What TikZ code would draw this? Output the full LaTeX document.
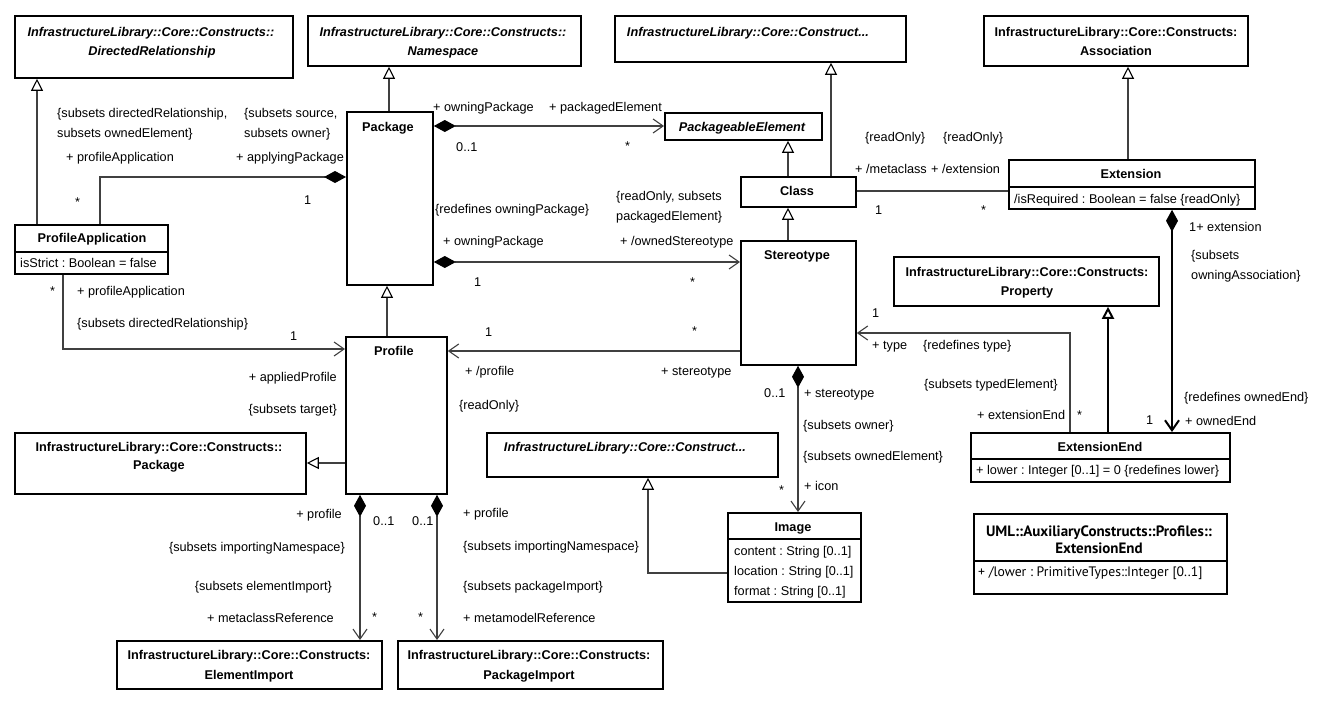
\documentclass[tikz,border=0pt]{standalone}
\usepackage{fontspec}
\setmainfont{Liberation Sans}
\newfontfamily\umlfont{PT Sans}
\usetikzlibrary{arrows.meta}
\newcommand{\lblfont}{\fontsize{12.7}{15}\selectfont}
\frenchspacing

\begin{document}
\begin{tikzpicture}[
    x=1pt, y=-1pt,
    cls/.style  = {draw, line width=1.8pt, anchor=north west, inner sep=0pt},
    ttl/.style  = {font=\lblfont\bfseries, inner sep=0pt, text height=9pt, text depth=0pt},
    ttli/.style = {ttl, font=\lblfont\bfseries\itshape},
    lbl/.style  = {font=\lblfont, inner sep=0pt, text height=9pt, text depth=0pt, anchor=west},
    lblr/.style = {lbl, anchor=east},
    sep/.style  = {line width=1.5pt},
    conn/.style = {draw=black!75, line width=1.1pt},
    gen/.style  = {conn, -{Triangle[open, length=12pt, width=12pt, color=black]}},
    nav/.style  = {conn, -{Straight Barb[length=10pt, width=14pt]}},
    comp/.style = {conn, {Diamond[length=22pt, width=12pt, color=black, fill=black]}-{Straight Barb[length=10pt, width=14pt]}},
    compn/.style= {conn, {Diamond[length=22pt, width=12pt, color=black, fill=black]}-},
]
  \fill[white] (0,0) rectangle (1324,701);
  \useasboundingbox (0,0) rectangle (1324,701);

  % classes
  \node[cls, minimum width=278pt, minimum height=62pt] (dirrel) at (14,15) {};
  \node[cls, minimum width=273pt, minimum height=50pt] (namespace) at (307,15) {};
  \node[cls, minimum width=291pt, minimum height=46pt] (construct1) at (614,15) {};
  \node[cls, minimum width=264pt, minimum height=50pt] (assoc) at (983,15) {};
  \node[cls, minimum width=86pt, minimum height=173pt] (package) at (346,111) {};
  \node[cls, minimum width=157pt, minimum height=27pt] (pe) at (664,112) {};
  \node[cls, minimum width=115pt, minimum height=30pt] (class) at (740,176) {};
  \node[cls, minimum width=246pt, minimum height=49pt] (ext) at (1008,159) {};
  \node[cls, minimum width=153pt, minimum height=49pt] (profapp) at (14,224) {};
  \node[cls, minimum width=115pt, minimum height=124pt] (stereo) at (740,240) {};
  \node[cls, minimum width=265pt, minimum height=49pt] (property) at (893,256) {};
  \node[cls, minimum width=101pt, minimum height=157pt] (profile) at (345,336) {};
  \node[cls, minimum width=291pt, minimum height=61pt] (pkginfra) at (14,432) {};
  \node[cls, minimum width=291pt, minimum height=44pt] (construct2) at (486,432) {};
  \node[cls, minimum width=133pt, minimum height=89pt] (image) at (727,512) {};
  \node[cls, minimum width=259pt, minimum height=49pt] (extend) at (970,432) {};
  \node[cls, minimum width=253pt, minimum height=80pt] (umlend) at (973,513) {};
  \node[cls, minimum width=265pt, minimum height=48pt] (elimport) at (116,640) {};
  \node[cls, minimum width=265pt, minimum height=48pt] (pkgimport) at (397,640) {};

  % compartments
  \draw[sep] (ext.west |- 0,187) -- (ext.east |- 0,187);
  \draw[sep] (profapp.west |- 0,252) -- (profapp.east |- 0,252);
  \draw[sep] (image.west |- 0,539) -- (image.east |- 0,539);
  \draw[sep] (extend.west |- 0,459) -- (extend.east |- 0,459);
  \draw[sep] (umlend.west |- 0,561) -- (umlend.east |- 0,561);

  % class names
  \node[ttli] (dirrel-a) at (151,32) {InfrastructureLibrary::Core::Constructs::};
  \node[ttli] (dirrel-b) at (152,51) {DirectedRelationship};
  \node[ttli] (namespace-a) at (443,32) {InfrastructureLibrary::Core::Constructs::};
  \node[ttli] (namespace-b) at (443,51) {Namespace};
  \node[ttli] (construct1-a) at (748,32) {InfrastructureLibrary::Core::Construct...};
  \node[ttl] (assoc-a) at (1116,32) {InfrastructureLibrary::Core::Constructs:};
  \node[ttl] (assoc-b) at (1116,51) {Association};
  \node[ttl] (package-a) at (388,127) {Package};
  \node[ttli] (pe-a) at (742,127) {PackageableElement};
  \node[ttl] (class-a) at (797,191) {Class};
  \node[ttl] (ext-a) at (1131,174) {Extension};
  \node[lbl] (ext-b) at (1014,199) {/isRequired : Boolean = false \{readOnly\}};
  \node[ttl] (profapp-a) at (92,238) {ProfileApplication};
  \node[lbl] (profapp-b) at (20,263) {isStrict : Boolean = false};
  \node[ttl] (stereo-a) at (797,255) {Stereotype};
  \node[ttl] (property-a) at (1027,272) {InfrastructureLibrary::Core::Constructs:};
  \node[ttl] (property-b) at (1027,291) {Property};
  \node[ttl] (profile-a) at (394,351) {Profile};
  \node[ttl] (pkginfra-a) at (159,447) {InfrastructureLibrary::Core::Constructs::};
  \node[ttl] (pkginfra-b) at (159,465) {Package};
  \node[ttli] (construct2-a) at (625,447) {InfrastructureLibrary::Core::Construct...};
  \node[ttl] (image-a) at (793,527) {Image};
  \node[lbl] (image-b) at (734,551) {content : String [0..1]};
  \node[lbl] (image-c) at (734,571) {location : String [0..1]};
  \node[lbl] (image-d) at (734,591) {format : String [0..1]};
  \node[ttl] (extend-a) at (1100,447) {ExtensionEnd};
  \node[lbl] (extend-b) at (976,470) {+ lower : Integer [0..1] = 0 \{redefines lower\}};
  \node[ttl, font=\umlfont\fontsize{15}{17}\selectfont\bfseries] (umlend-a) at (1099,532) {UML::AuxiliaryConstructs::Profiles::};
  \node[ttl, font=\umlfont\fontsize{15}{17}\selectfont\bfseries] (umlend-b) at (1099,549) {ExtensionEnd};
  \node[lbl, font=\umlfont\fontsize{13.7}{16}\selectfont] (umlend-c) at (978,572) {+ /lower : PrimitiveTypes::Integer [0..1]};
  \node[ttl] (elimport-a) at (249,655) {InfrastructureLibrary::Core::Constructs:};
  \node[ttl] (elimport-b) at (249,675) {ElementImport};
  \node[ttl] (pkgimport-a) at (529,655) {InfrastructureLibrary::Core::Constructs:};
  \node[ttl] (pkgimport-b) at (529,675) {PackageImport};

  % generalizations
  \draw[gen] (profapp.north -| 37,0) -- (dirrel.south -| 37,0);
  \draw[gen] (package.north -| 389,0) -- (namespace.south -| 389,0);
  \draw[gen] (class.north -| 788,0) -- (pe.south -| 788,0);
  \draw[gen] (class.north -| 831,0) -- (construct1.south -| 831,0);
  \draw[gen] (stereo.north -| 788,0) -- (class.south -| 788,0);
  \draw[gen] (ext.north -| 1128,0) -- (assoc.south -| 1128,0);
  \draw[gen] (profile.north -| 387,0) -- (package.south -| 387,0);
  \draw[gen] (profile.west |- 0,463) -- (pkginfra.east |- 0,463);
  \draw[gen] (image.west |- 0,573) -| (construct2.south -| 648,0);
  \draw[gen, draw=black, line width=2pt] (extend.north -| 1108,0) -- (property.south -| 1108,0);

  % associations
  \draw[compn] (package.west |- 0,177) -| (profapp.north -| 100,0);
  \draw[comp] (package.east |- 0,126) -- (pe.west |- 0,126);
  \draw[conn] (class.east |- 0,191) -- (ext.west |- 0,191);
  \draw[comp, draw=black, line width=2pt] (ext.south -| 1172,0) -- (extend.north -| 1172,0);
  \draw[comp] (package.east |- 0,262) -- (stereo.west |- 0,262);
  \draw[nav] (profapp.south -| 63,0) |- (profile.west |- 0,349);
  \draw[nav] (stereo.west |- 0,351) -- (profile.east |- 0,351);
  \draw[comp] (stereo.south -| 798,0) -- (image.north -| 798,0);
  \draw[comp] (profile.south -| 360,0) -- (elimport.north -| 360,0);
  \draw[comp] (profile.south -| 437,0) -- (pkgimport.north -| 437,0);
  \draw[nav] (extend.north -| 1070,0) |- (stereo.east |- 0,333);

  % ends: ProfileApplication / Package
  \node[lbl] (m1) at (57,113) {\{subsets directedRelationship,};
  \node[lbl] (m2) at (57,133) {subsets ownedElement\}};
  \node[lbl] (m3) at (66,157) {+ profileApplication};
  \node[lbl] (m4) at (244,113) {\{subsets source,};
  \node[lbl] (m5) at (244,133) {subsets owner\}};
  \node[lbl] (m6) at (236,157) {+ applyingPackage};
  \node[lbl] (m7) at (75,202) {*};
  \node[lbl] (m8) at (304,200) {1};

  % ends: Package / PackageableElement
  \node[lbl] (m9) at (433,107) {+ owningPackage};
  \node[lbl] (m10) at (549,107) {+ packagedElement};
  \node[lbl] (m11) at (456,147) {0..1};
  \node[lbl] (m12) at (625,146) {*};

  % ends: Class / Extension
  \node[lbl] (m13) at (865,137) {\{readOnly\}};
  \node[lbl] (m14) at (943,137) {\{readOnly\}};
  \node[lbl] (m15) at (855,169) {+ /metaclass};
  \node[lbl] (m16) at (931,169) {+ /extension};
  \node[lbl] (m17) at (875,210) {1};
  \node[lbl] (m18) at (981,210) {*};

  % ends: Extension / ExtensionEnd
  \node[lbl] (m19) at (1189,227) {1+ extension};
  \node[lbl] (m20) at (1191,255) {\{subsets};
  \node[lbl] (m21) at (1191,275) {owningAssociation\}};
  \node[lbl] (m22) at (1184,397) {\{redefines ownedEnd\}};
  \node[lbl] (m23) at (1146,420) {1};
  \node[lbl] (m24) at (1185,421) {+ ownedEnd};

  % ends: Package / Stereotype
  \node[lbl] (m25) at (435,209) {\{redefines owningPackage\}};
  \node[lbl] (m26) at (616,196) {\{readOnly, subsets};
  \node[lbl] (m27) at (616,216) {packagedElement\}};
  \node[lbl] (m28) at (443,241) {+ owningPackage};
  \node[lbl] (m29) at (620,241) {+ /ownedStereotype};
  \node[lbl] (m30) at (474,282) {1};
  \node[lbl] (m31) at (690,282) {*};

  % ends: ProfileApplication / Profile
  \node[lbl] (m32) at (50,291) {*};
  \node[lbl] (m33) at (77,291) {+ profileApplication};
  \node[lbl] (m34) at (77,323) {\{subsets directedRelationship\}};
  \node[lbl] (m35) at (290,336) {1};
  \node[lblr] (m36) at (337,377) {+ appliedProfile};
  \node[lblr] (m37) at (337,409) {\{subsets target\}};

  % ends: Stereotype / Profile
  \node[lbl] (m38) at (485,332) {1};
  \node[lbl] (m39) at (692,331) {*};
  \node[lbl] (m40) at (465,371) {+ /profile};
  \node[lbl] (m41) at (661,371) {+ stereotype};
  \node[lbl] (m42) at (459,405) {\{readOnly\}};

  % ends: Stereotype / Image
  \node[lbl] (m43) at (764,393) {0..1};
  \node[lbl] (m44) at (804,393) {+ stereotype};
  \node[lbl] (m45) at (803,425) {\{subsets owner\}};
  \node[lbl] (m46) at (803,456) {\{subsets ownedElement\}};
  \node[lbl] (m47) at (779,490) {*};
  \node[lbl] (m48) at (804,486) {+ icon};

  % ends: Stereotype / ExtensionEnd
  \node[lbl] (m49) at (872,313) {1};
  \node[lbl] (m50) at (872,345) {+ type};
  \node[lbl] (m51) at (923,345) {\{redefines type\}};
  \node[lbl] (m52) at (924,384) {\{subsets typedElement\}};
  \node[lbl] (m53) at (977,415) {+ extensionEnd};
  \node[lbl] (m54) at (1077,415) {*};

  % ends: Profile / ElementImport, PackageImport
  \node[lblr] (m55) at (342,514) {+ profile};
  \node[lblr] (m56) at (345,547) {\{subsets importingNamespace\}};
  \node[lblr] (m57) at (332,586) {\{subsets elementImport\}};
  \node[lblr] (m58) at (334,618) {+ metaclassReference};
  \node[lbl] (m59) at (373,521) {0..1};
  \node[lbl] (m60) at (412,521) {0..1};
  \node[lbl] (m61) at (372,617) {*};
  \node[lbl] (m62) at (418,617) {*};
  \node[lbl] (m63) at (463,513) {+ profile};
  \node[lbl] (m64) at (463,546) {\{subsets importingNamespace\}};
  \node[lbl] (m65) at (463,586) {\{subsets packageImport\}};
  \node[lbl] (m66) at (463,618) {+ metamodelReference};

\end{tikzpicture}
\end{document}
